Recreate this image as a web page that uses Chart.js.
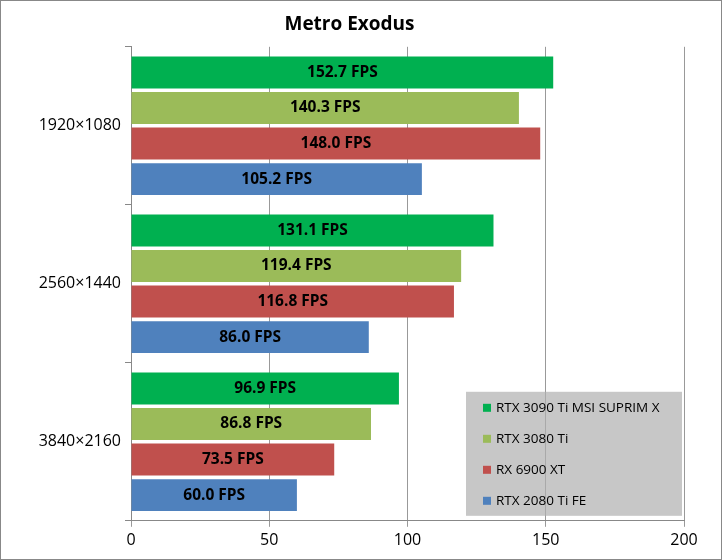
<!DOCTYPE html>
<html>
<head>
<meta charset="utf-8">
<script src="https://cdn.jsdelivr.net/npm/chart.js@4"></script>
<style>
  html, body { margin: 0; padding: 0; background: #fff; }
  #wrap { width: 720px; height: 558px; border: 1px solid #888; position: relative; }
</style>
</head>
<body>
<div id="wrap"><canvas id="c" width="720" height="558"></canvas></div>
<script>
const resolutions = ["1920×1080", "2560×1440", "3840×2160"];
const cards = ["RTX 3090 Ti MSI SUPRIM X", "RTX 3080 Ti", "RX 6900 XT", "RTX 2080 Ti FE"];
const colors = ["#00B050", "#9BBB59", "#C0504D", "#4F81BD"];
const suprim = [152.7, 131.1, 96.9];
const rtx3080ti = [140.3, 119.4, 86.8];
const rx6900xt = [148.0, 116.8, 73.5];
const rtx2080ti = [105.2, 86.0, 60.0];
const xTicks = [0, 50, 100, 150, 200];

const FONT = "'Open Sans', 'Liberation Sans', sans-serif";
const series = [suprim, rtx3080ti, rx6900xt, rtx2080ti];

// etiquetas dentro de las barras
const barLabels = {
  id: "barLabels",
  afterDatasetsDraw(chart) {
    const ctx = chart.ctx;
    ctx.save();
    ctx.font = "bold 15.5px " + FONT;
    ctx.fillStyle = "#000";
    ctx.textAlign = "center";
    ctx.textBaseline = "middle";
    chart.data.datasets.forEach((ds, i) => {
      chart.getDatasetMeta(i).data.forEach((bar, j) => {
        const x = (bar.base + bar.x) / 2;
        ctx.fillText(ds.data[j].toFixed(1) + " FPS", x, bar.y);
      });
    });
    ctx.restore();
  },
};

// leyenda translúcida en la esquina inferior derecha
const boxLegend = {
  id: "boxLegend",
  afterDraw(chart) {
    const ctx = chart.ctx;
    const a = chart.chartArea;
    const w = 216, h = 124;
    const x0 = a.right - w - 2, y0 = a.bottom - h - 5;
    ctx.save();
    ctx.fillStyle = "rgba(175,175,175,0.7)";
    ctx.fillRect(x0, y0, w, h);
    ctx.font = "13.5px " + FONT;
    ctx.textBaseline = "middle";
    cards.forEach((name, i) => {
      const y = y0 + 16 + i * 31;
      ctx.fillStyle = colors[i];
      ctx.fillRect(x0 + 17, y - 4, 8, 8);
      ctx.fillStyle = "#000";
      ctx.fillText(name, x0 + 30, y);
    });
    ctx.restore();
  },
};

new Chart(document.getElementById("c"), {
  type: "bar",
  data: {
    labels: resolutions,
    datasets: cards.map((name, i) => ({
      label: name,
      data: series[i],
      backgroundColor: colors[i],
      categoryPercentage: 0.9,
      barPercentage: 0.9,
    })),
  },
  options: {
    indexAxis: "y",
    responsive: false,
    animation: false,
    layout: { padding: { left: 14, right: 37, top: 0, bottom: 5 } },
    plugins: {
      legend: { display: false },
      tooltip: { enabled: false },
      title: {
        display: true,
        text: "Metro Exodus",
        color: "#000",
        font: { family: FONT, size: 19, weight: "bold" },
        padding: { top: 12, bottom: 11 },
      },
    },
    scales: {
      x: {
        min: 0,
        max: 200,
        afterBuildTicks: (s) => { s.ticks = xTicks.map((v) => ({ value: v })); },
        grid: { color: "#999", tickLength: 6 },
        border: { color: "#888" },
        ticks: { color: "#000", font: { family: FONT, size: 16 }, padding: 4 },
      },
      y: {
        afterFit: (s) => { s.width = 116; },
        grid: { offset: true, drawOnChartArea: false, color: "#888", tickLength: 6 },
        border: { color: "#888" },
        ticks: { color: "#000", font: { family: FONT, size: 16 }, padding: 4 },
      },
    },
  },
  plugins: [barLabels, boxLegend],
});
</script>
</body>
</html>
